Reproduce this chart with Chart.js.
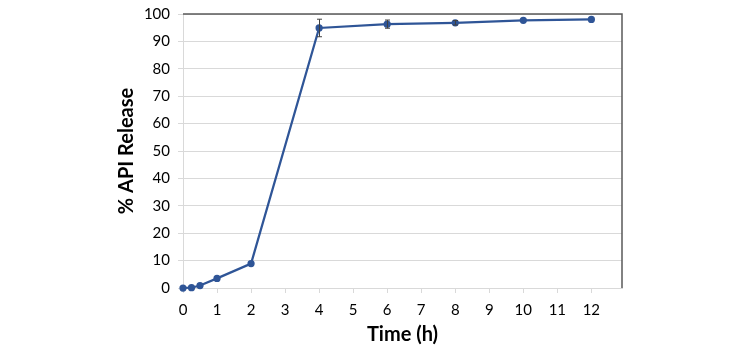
<!DOCTYPE html>
<html>
<head>
<meta charset="utf-8">
<script src="https://cdn.jsdelivr.net/npm/chart.js@4.4.1/dist/chart.umd.min.js"></script>
<style>
  html, body { margin: 0; padding: 0; background: #ffffff; }
  #wrap { width: 750px; height: 357px; position: relative; }
</style>
</head>
<body>
<div id="wrap"><canvas id="c" width="750" height="357"></canvas></div>
<script>
// ---- Data ----
const timeHours = [0, 0.25, 0.5, 1, 2, 4, 6, 8, 10, 12];
const apiRelease = [0, 0.1, 0.9, 3.5, 8.9, 94.9, 96.3, 96.8, 97.7, 98.0];
const releaseError = [0, 0, 0, 0, 0, 3.2, 1.5, 0.8, 0, 0];
const xTickValues = [0, 1, 2, 3, 4, 5, 6, 7, 8, 9, 10, 11, 12];
const xTitle = 'Time (h)';
const yTitle = '% API Release';

const FONT = 'Lato, "Open Sans", sans-serif';
const LINE = '#2F5597';

const errorBars = {
  id: 'errorBars',
  afterDatasetsDraw(chart) {
    const { ctx, scales: { x, y } } = chart;
    ctx.save();
    ctx.strokeStyle = '#404040';
    ctx.lineWidth = 1;
    timeHours.forEach((t, i) => {
      const e = releaseError[i];
      if (!e) return;
      const px = Math.round(x.getPixelForValue(t)) + 0.5;
      const top = y.getPixelForValue(apiRelease[i] + e);
      const bot = y.getPixelForValue(apiRelease[i] - e);
      ctx.beginPath();
      ctx.moveTo(px, top); ctx.lineTo(px, bot);
      ctx.moveTo(px - 2.5, top); ctx.lineTo(px + 2.5, top);
      ctx.moveTo(px - 2.5, bot); ctx.lineTo(px + 2.5, bot);
      ctx.stroke();
    });
    ctx.restore();
  }
};

const frame = {
  id: 'frame',
  beforeDatasetsDraw(chart) {
    const { ctx, chartArea: a } = chart;
    ctx.save();
    ctx.strokeStyle = '#595959';
    ctx.lineWidth = 1.5;
    ctx.beginPath();
    ctx.moveTo(a.left, a.top);
    ctx.lineTo(a.right, a.top);
    ctx.lineTo(a.right, a.bottom);
    ctx.stroke();
    ctx.restore();
  }
};

new Chart(document.getElementById('c'), {
  type: 'line',
  data: {
    datasets: [{
      data: timeHours.map((t, i) => ({ x: t, y: apiRelease[i] })),
      borderColor: LINE,
      backgroundColor: LINE,
      borderWidth: 2.25,
      pointRadius: 2.5,
      pointHoverRadius: 2.5,
      tension: 0,
      clip: false
    }]
  },
  options: {
    responsive: false,
    animation: false,
    layout: { padding: { left: 115, right: 128, top: 14, bottom: 10 } },
    plugins: { legend: { display: false }, tooltip: { enabled: false } },
    scales: {
      x: {
        type: 'linear',
        min: 0, max: 12.9,
        afterBuildTicks(s) { s.ticks = xTickValues.map(v => ({ value: v })); },
        afterFit(s) { s.height = 59; s.paddingLeft = 0; s.paddingRight = 0; },
        ticks: { padding: 8, color: '#000', font: { family: FONT, size: 15 }, maxRotation: 0, autoSkip: false },
        grid: { drawOnChartArea: false, drawTicks: true, tickLength: 5, color: '#d9d9d9' },
        border: { color: '#d9d9d9', width: 1 },
        title: { display: true, text: xTitle, color: '#000', font: { family: FONT, size: 20, weight: 'bold' }, padding: 0 }
      },
      y: {
        min: 0, max: 100,
        afterFit(s) { s.width = 68; s.paddingTop = 0; s.paddingBottom = 0; },
        ticks: { stepSize: 10, padding: 8, color: '#000', font: { family: FONT, size: 15 } },
        grid: { color: '#d9d9d9', tickLength: 5 },
        border: { color: '#d9d9d9', width: 1 },
        title: { display: true, text: yTitle, color: '#000', font: { family: FONT, size: 20, weight: 'bold' }, padding: 0 }
      }
    }
  },
  plugins: [frame, errorBars]
});
</script>
</body>
</html>
